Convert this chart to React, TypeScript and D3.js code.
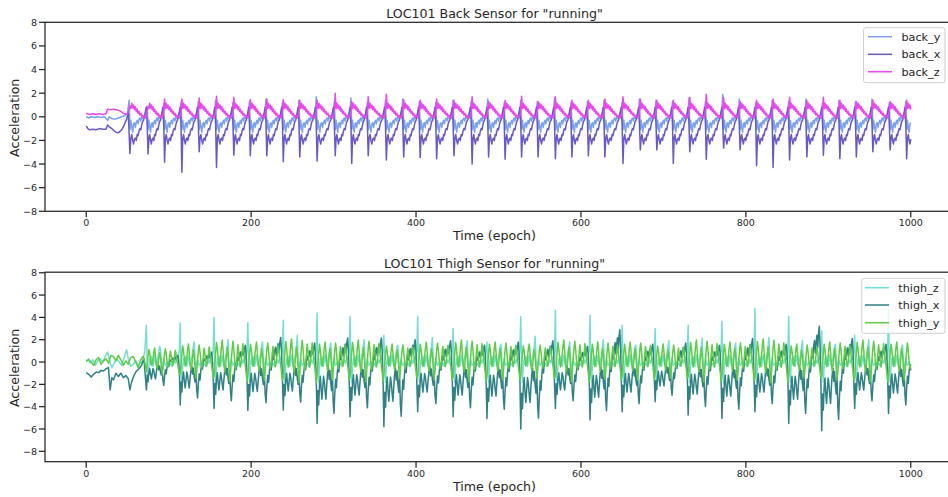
import * as d3 from "d3";

// ---- data ----
// back sensor: epochs of the back_x step spikes, and per-step extremes
const BACK_SPIKE_EPOCH = [53, 75, 95, 116, 137, 158, 179, 199, 219, 239, 259, 280, 302, 322, 342, 364, 385, 405, 425, 446, 468, 488, 508, 528, 548, 569, 589, 609, 629, 651, 672, 692, 712, 732, 752, 773, 793, 813, 833, 853, 874, 894, 914, 934, 954, 975, 995];
const BACK_X_MIN = [-3.1, -3.15, -3.85, -4.7, -2.95, -4.3, -3.25, -3.3, -3.3, -3.8, -3.4, -3.75, -3.3, -3.95, -3.3, -3.65, -3.4, -3.45, -3.55, -3.3, -4.0, -3.4, -3.6, -3.4, -3.4, -3.55, -3.4, -3.3, -3.4, -3.95, -2.8, -2.8, -3.95, -2.95, -3.6, -2.65, -2.8, -4.15, -4.3, -3.65, -3.4, -3.25, -3.55, -3.4, -2.95, -2.8, -3.55];
const BACK_Z_PEAK = [0.9, 0.85, 1.5, 1.5, 1.6, 1.75, 1.65, 1.45, 1.5, 1.45, 1.4, 1.4, 2.0, 1.3, 1.7, 1.9, 1.45, 1.4, 1.5, 1.4, 1.7, 1.3, 1.4, 1.75, 1.3, 1.7, 1.4, 1.4, 1.5, 1.7, 1.5, 1.4, 1.4, 1.65, 1.9, 1.65, 1.3, 1.4, 1.5, 1.65, 1.4, 1.65, 1.4, 1.3, 1.4, 1.3, 1.4];
const BACK_Y_PEAK = [1.4, 0.9, 1.1, 1.2, 1.3, 1.4, 1.2, 1.3, 1.5, 1.2, 1.4, 1.7, 1.3, 1.6, 1.2, 1.4, 1.5, 1.3, 1.2, 1.4, 1.3, 1.5, 1.2, 1.4, 1.3, 1.6, 1.2, 1.3, 1.4, 1.2, 1.5, 1.4, 1.3, 1.6, 1.3, 1.9, 1.5, 1.2, 1.4, 1.3, 1.5, 1.2, 1.4, 1.3, 1.5, 1.2, 1.3];

// typical shape of one back step (one value per epoch, index 0 = spike)
const BACK_X_SHAPE = [0, -1.8, -1.5, -2.0, -2.3, -1.9, -1.8, -2.0, -1.5, -1.6, -1.2, -1.0, -1.1, -0.7, -0.4, -0.3, 0.0, 0.4, 0.8, -0.6];
const BACK_Y_SHAPE = [-1.1, -0.3, -0.9, -1.3, -0.6, -0.5, -0.9, -0.5, -0.3, -0.6, -0.2, -0.1, -0.35, 0.0, -0.15, 0.1, -0.05, 0.3, 0.5, 0];
const BACK_Z_SHAPE = [0, 0.7, 1.15, 0.75, 1.0, 0.6, 0.85, 0.45, 0.65, 0.3, 0.45, 0.15, 0.3, 0.05, 0.12, -0.05, 0.05, -0.1, 0.1, 0.5];

// standing part before running starts
const BACK_X_START: [number, number][] = [[0, -0.78], [2, -1.0], [4, -1.1], [8, -1.05], [12, -1.1], [16, -1.0], [20, -1.05], [24, -1.05], [26, -0.7], [28, -0.85], [31, -1.0], [34, -1.2], [37, -1.35], [40, -1.3], [43, -1.1], [46, -0.7], [49, -0.2], [51, 0.3]];
const BACK_Y_START: [number, number][] = [[0, 0.0], [3, -0.1], [6, 0.0], [10, -0.05], [14, 0.0], [18, -0.05], [22, 0.0], [26, -0.3], [28, 0.0], [31, -0.15], [35, -0.2], [39, -0.1], [43, 0.0], [47, 0.1], [50, 0.3]];
const BACK_Z_START: [number, number][] = [[0, 0.3], [4, 0.2], [8, 0.25], [12, 0.2], [16, 0.25], [20, 0.2], [24, 0.25], [26, 0.65], [29, 0.6], [33, 0.65], [37, 0.6], [41, 0.5], [45, 0.3], [49, 0.2], [51, 0.4]];

// thigh sensor: epochs of the thigh_z stride spikes and per-stride extremes
const THIGH_STRIDE_EPOCH = [73, 114, 155, 196, 239, 280, 320, 361, 402, 445, 486, 527, 569, 611, 650, 690, 730, 771, 811, 852, 892, 932, 973];
const THIGH_Z_PEAK = [3.3, 3.5, 4.0, 3.55, 3.75, 4.4, 4.1, 2.4, 4.1, 3.0, 1.8, 4.05, 4.65, 4.2, 3.3, 3.0, 3.3, 3.65, 4.8, 4.1, 2.8, 2.4, 4.7];
const THIGH_Z_SECOND = [1.2, 1.8, 2.0, 1.8, 2.4, 1.7, 2.0, 1.5, 2.2, 1.9, 1.6, 2.3, 1.8, 2.0, 1.5, 1.9, 2.1, 1.7, 2.2, 1.9, 1.6, 2.0, 1.5];
const THIGH_X_MIN = [-2.5, -3.85, -4.15, -4.35, -4.3, -5.5, -4.9, -5.8, -4.45, -4.9, -5.05, -6.0, -4.15, -5.2, -4.45, -3.55, -4.75, -5.05, -4.45, -5.5, -6.15, -4.15, -4.6];
const THIGH_X_MAX = [0.6, 0.9, 1.5, 2.2, 1.7, 2.15, 2.15, 2.0, 1.9, 1.5, 1.8, 1.9, 1.4, 2.9, 1.6, 1.7, 1.5, 2.1, 1.6, 3.2, 2.1, 1.6, 1.5];
const THIGH_Y_AMP = [0.7, 0.9, 1.1, 1.0, 1.15, 1.0, 1.1, 0.9, 1.0, 1.1, 1.0, 0.9, 1.1, 1.0, 1.0, 0.9, 1.1, 1.0, 1.15, 0.9, 1.0, 1.1, 1.0];

// typical shape of one stride (one value per epoch, index 0 = thigh_z spike)
const THIGH_X_SHAPE = [-4.3, -2.0, -3.0, -1.6, -1.0, -1.9, -2.6, -1.8, -1.0, -1.4, -2.1, -2.6, -1.6, -0.8, -0.4, -1.2, -0.6, -1.5, -2.0, -0.8, -2.8, -3.6, -2.2, -1.2, -1.8, -0.8, -0.2, -0.7, 0.1, 0.6, 0.2, 0.9, 1.2, 0.5, 1.1, 1.5, 0.8, 1.6, 2.0, 0.8, -1.5];
const THIGH_Y_SHAPE = [-1.2, -0.3, 0.8, 1.6, 1.1, 0.3, -0.4, -0.2, 0.5, 1.3, 1.8, 0.9, -0.2, -0.8, -0.3, 0.4, 1.2, 0.6, -0.5, -1.6, -0.9, 0.2, 1.1, 1.7, 1.0, 0.1, -0.6, -0.2, 0.6, 1.4, 0.8, 0.0, -0.4, 0.1, 0.7, 1.5, 1.0, 0.2, -0.3, -0.9, -1.6];
const THIGH_Z_SHAPE = [0, -0.8, -1.8, -0.4, 0.3, -0.2, 0.5, 0.1, -0.4, 0.2, 0.6, 0.0, -0.3, 0.1, 0.4, 0.9, 1.4, 0, 0.2, -0.6, -0.2, 0.3, -0.1, -0.3, -0.2, 0.0, -0.2, -0.4, -0.3, -0.1, -0.2, -0.4, -0.3, 0.0, 0.2, -0.1, 0.1, 0.4, 0.2, 0.6, 1.1];

const THIGH_X_START: [number, number][] = [[0, -0.95], [3, -1.1], [6, -1.35], [9, -1.1], [12, -0.9], [15, -0.95], [18, -0.75], [21, -0.8], [24, -0.6], [27, -0.5], [29, -2.5], [31, -1.4], [33, -1.6], [36, -1.0], [39, -1.3], [42, -1.0], [45, -1.4], [48, -1.2], [51, -1.5], [53, -2.5], [55, -1.8], [58, -1.2], [61, -0.8], [64, -0.6], [67, -0.3], [70, 0.3]];
const THIGH_Z_START: [number, number][] = [[0, 0.0], [3, 0.3], [5, -0.1], [8, 0.2], [11, -0.3], [14, 0.1], [17, 0.3], [20, 0.0], [23, 0.5], [26, 0.9], [28, 0.2], [31, -0.5], [34, -0.1], [37, 0.3], [40, 0.0], [43, -0.3], [46, 0.4], [49, 1.1], [51, 0.3], [54, -0.4], [57, -0.2], [60, 0.1], [63, -0.3], [66, -0.1], [69, 0.2], [71, 1.0]];
const THIGH_Y_START: [number, number][] = [[0, 0.1], [3, 0.2], [6, 0.0], [9, -0.3], [12, 0.2], [15, 0.4], [18, -0.2], [21, 0.1], [24, 0.3], [27, -0.1], [30, 0.6], [33, 0.5], [36, 0.1], [39, 0.6], [42, 0.2], [45, -0.3], [48, 0.1], [51, -0.2], [54, 0.4], [57, 0.5], [60, 0.0], [63, -0.5], [66, 0.2], [69, 0.5], [71, 0.0]];

const Y_TICKS = [-8, -6, -4, -2, 0, 2, 4, 6, 8];
const X_TICKS = [0, 200, 400, 600, 800, 1000];
const LAST_EPOCH = 1000;

type Pt = [number, number];

// lay a per-cycle shape between consecutive cycle start epochs
function buildSeries(start: Pt[], starts: number[], shape: number[], pick: (i: number, k: number, v: number) => number): Pt[] {
  const out: Pt[] = [...start];
  starts.forEach((s, i) => {
    const next = i + 1 < starts.length ? starts[i + 1] : s + (s - starts[i - 1]);
    const step = (next - s) / shape.length;
    shape.forEach((v, k) => {
      const e = s + k * step;
      if (e <= LAST_EPOCH) out.push([e, pick(i, k, v)]);
    });
  });
  return out;
}

const backY = buildSeries(BACK_Y_START, BACK_SPIKE_EPOCH, BACK_Y_SHAPE, (i, k, v) => (k === 19 ? BACK_Y_PEAK[Math.min(i + 1, BACK_Y_PEAK.length - 1)] : v));
backY.splice(BACK_Y_START.length, 0, [52, BACK_Y_PEAK[0]]);
const backX = buildSeries(BACK_X_START, BACK_SPIKE_EPOCH, BACK_X_SHAPE, (i, k, v) => (k === 0 ? BACK_X_MIN[i] : v));
const backZ = buildSeries(BACK_Z_START, BACK_SPIKE_EPOCH, BACK_Z_SHAPE, (i, k, v) => (k === 0 ? BACK_Z_PEAK[i] : v));

const thighZ = buildSeries(THIGH_Z_START, THIGH_STRIDE_EPOCH, THIGH_Z_SHAPE, (i, k, v) => (k === 0 ? THIGH_Z_PEAK[i] : k === 17 ? THIGH_Z_SECOND[i] : v));
const thighX = buildSeries(THIGH_X_START, THIGH_STRIDE_EPOCH, THIGH_X_SHAPE, (i, k, v) => (v < 0 ? (v * THIGH_X_MIN[i]) / -4.3 : (v * THIGH_X_MAX[i]) / 2.0));
const thighY = buildSeries(THIGH_Y_START, THIGH_STRIDE_EPOCH, THIGH_Y_SHAPE, (i, k, v) => v * THIGH_Y_AMP[i]);

const font = "'DejaVu Sans', sans-serif";
const ink = "#262626";

type Series = { name: string; color: string; data: Pt[] };

function Panel({ top, bottom, yDomain, title, series, legend }: {
  top: number; bottom: number; yDomain: [number, number]; title: string; series: Series[];
  legend: { x: number; y: number; w: number; h: number; lineX: number; textX: number; rows: number[] };
}) {
  const left = 45;
  const right = 952;
  const x = d3.scaleLinear().domain([-50, 1050]).range([left, right]);
  const y = d3.scaleLinear().domain(yDomain).range([bottom, top]);
  const line = d3.line<Pt>().x(d => x(d[0])).y(d => y(d[1]));
  const midX = (left + right) / 2 - 4;

  return (
    <g fontFamily={font}>
      <text x={midX} y={top - 4.5} textAnchor="middle" fontSize={12.6} fill={ink}>{title}</text>
      {series.map(s => (
        <path key={s.name} d={line(s.data) ?? ""} fill="none" stroke={s.color} strokeWidth={1.5} strokeLinejoin="round" />
      ))}
      <rect x={left} y={top} width={right - left} height={bottom - top} fill="none" stroke={ink} strokeWidth={1.25} />
      {Y_TICKS.map(t => (
        <g key={t}>
          <line x1={left - 6} x2={left} y1={y(t)} y2={y(t)} stroke={ink} strokeWidth={1.25} />
          <text x={left - 8} y={y(t) + 3.5} textAnchor="end" fontSize={9.5} fill={ink}>{t < 0 ? `\u2212${-t}` : t}</text>
        </g>
      ))}
      {X_TICKS.map(t => (
        <g key={t}>
          <line x1={x(t)} x2={x(t)} y1={bottom} y2={bottom + 6} stroke={ink} strokeWidth={1.25} />
          <text x={x(t)} y={bottom + 15} textAnchor="middle" fontSize={9.5} fill={ink}>{t}</text>
        </g>
      ))}
      <text x={midX} y={bottom + 29} textAnchor="middle" fontSize={12.6} fill={ink}>Time (epoch)</text>
      <text transform={`translate(19, ${(top + bottom) / 2 + 1}) rotate(-90)`} textAnchor="middle" fontSize={12.6} fill={ink}>Acceleration</text>
      <rect x={legend.x} y={legend.y} width={legend.w} height={legend.h} rx={2.5} fill="#ffffff" fillOpacity={0.8} stroke="#d0d0d0" strokeWidth={1} />
      {series.map((s, i) => (
        <g key={s.name}>
          <line x1={legend.lineX} x2={legend.lineX + 24} y1={legend.rows[i]} y2={legend.rows[i]} stroke={s.color} strokeWidth={1.5} />
          <text x={legend.textX} y={legend.rows[i] + 4} fontSize={11.2} fill={ink}>{s.name}</text>
        </g>
      ))}
    </g>
  );
}

export default function App() {
  const backSeries: Series[] = [
    { name: "back_y", color: "#7aa2ee", data: backY },
    { name: "back_x", color: "#6858cc", data: backX },
    { name: "back_z", color: "#ee44f2", data: backZ },
  ];
  const thighSeries: Series[] = [
    { name: "thigh_z", color: "#6fe0d5", data: thighZ },
    { name: "thigh_x", color: "#2e8184", data: thighX },
    { name: "thigh_y", color: "#5ecc44", data: thighY },
  ];
  return (
    <svg width={948} height={497} style={{ position: "absolute", left: 0, top: 0, background: "#fff" }}>
      <Panel top={22.3} bottom={211.3} yDomain={[-8, 8]} title={'LOC101 Back Sensor for "running"'} series={backSeries}
        legend={{ x: 863.5, y: 27.7, w: 81.5, h: 55, lineX: 868, textX: 901.5, rows: [36.7, 54.3, 71.7] }} />
      <Panel top={272.2} bottom={461.7} yDomain={[-8.93, 8.05]} title={'LOC101 Thigh Sensor for "running"'} series={thighSeries}
        legend={{ x: 861.7, y: 278.3, w: 83.3, h: 55, lineX: 865, textX: 898.3, rows: [287.7, 305, 322.7] }} />
    </svg>
  );
}
